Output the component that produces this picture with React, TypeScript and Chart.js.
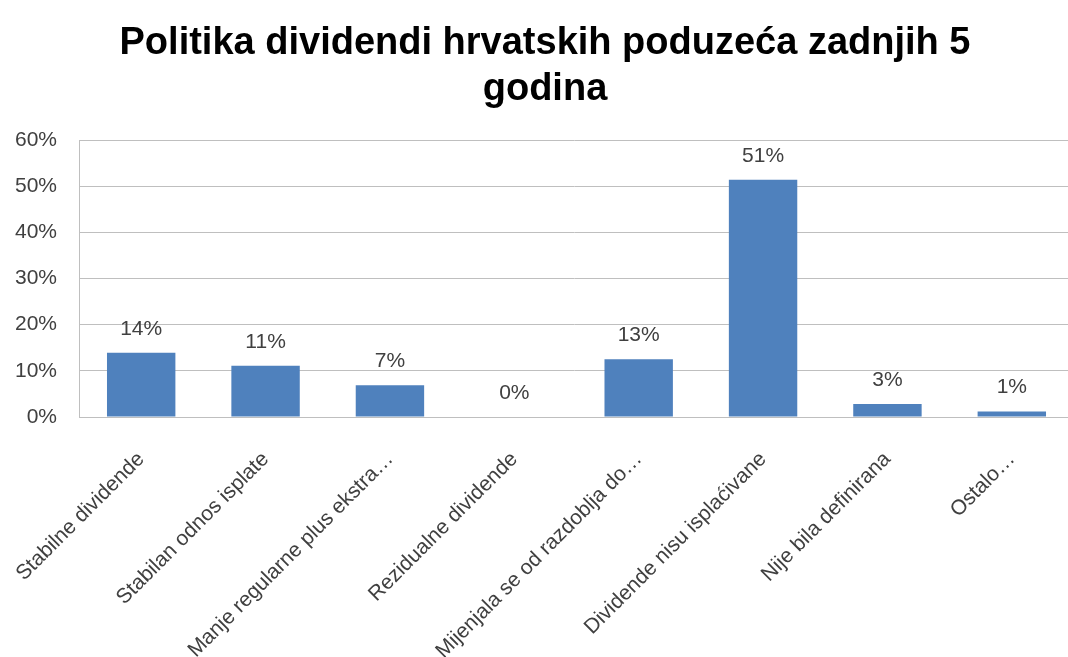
import React, { useEffect, useRef } from "react";
import { Chart, registerables } from "chart.js";

Chart.register(...registerables);

const TITLE_LINES = ["Politika dividendi hrvatskih poduzeća zadnjih 5", "godina"];
const CATEGORIES = [
  "Stabilne dividende",
  "Stabilan odnos isplate",
  "Manje regularne plus ekstra…",
  "Rezidualne dividende",
  "Mijenjala se od razdoblja do…",
  "Dividende nisu isplaćivane",
  "Nije bila definirana",
  "Ostalo…",
];
const VALUES = [13.9, 11.1, 6.9, 0, 12.5, 51.4, 2.8, 1.2];
const Y_MIN = 0;
const Y_MAX = 60;
const Y_STEP = 10;

const FONT = "'Liberation Sans', Arial, sans-serif";
const BAR_COLOR = "#4F81BD";
const GRID_COLOR = "#BFBFBF";
const TEXT_COLOR = "#404040";
const PLOT_RIGHT = 1074; // plot area runs slightly past the right edge of the picture
const TITLE_SHIFT = 11;

const dataLabelPlugin = {
  id: "dataLabels",
  afterDatasetsDraw(chart: any) {
    const ctx = chart.ctx;
    const meta = chart.getDatasetMeta(0);
    ctx.save();
    ctx.font = `21px ${FONT}`;
    ctx.fillStyle = TEXT_COLOR;
    ctx.textAlign = "center";
    ctx.textBaseline = "middle";
    meta.data.forEach((bar: any, i: number) => {
      const v = VALUES[i];
      ctx.fillText(Math.round(v) + "%", bar.x, bar.y - 24);
    });
    ctx.restore();
  },
};

const widenPlugin = {
  id: "widen",
  afterLayout(chart: any) {
    const xs = chart.scales.x;
    xs.right = PLOT_RIGHT;
    xs.width = xs.right - xs.left;
    chart.chartArea.right = PLOT_RIGHT;
    chart.chartArea.width = PLOT_RIGHT - chart.chartArea.left;
    xs.configure();
    const tb = chart.titleBlock;
    if (tb) {
      tb.left += TITLE_SHIFT;
      tb.right += TITLE_SHIFT;
    }
  },
};

export default function App() {
  const ref = useRef<HTMLCanvasElement>(null);
  useEffect(() => {
    if (!ref.current) return;
    const chart = new Chart(ref.current, {
      type: "bar",
      data: {
        labels: CATEGORIES,
        datasets: [
          {
            data: VALUES,
            backgroundColor: BAR_COLOR,
            borderWidth: 0,
            barPercentage: 0.55,
            categoryPercentage: 1,
          },
        ],
      },
      options: {
        responsive: false,
        animation: false,
        layout: { padding: { left: 0, right: 0, top: 0, bottom: 0 } },
        plugins: {
          legend: { display: false },
          tooltip: { enabled: false },
          title: {
            display: true,
            text: TITLE_LINES,
            color: "#000000",
            font: { family: FONT, size: 38, weight: "bold", lineHeight: 46 / 38 },
            padding: { top: 21, bottom: 27 },
          },
        },
        scales: {
          x: {
            grid: { display: false, drawTicks: false },
            border: { display: true, color: GRID_COLOR, width: 1 },
            ticks: {
              autoSkip: false,
              maxRotation: 45,
              minRotation: 45,
              padding: 30,
              color: TEXT_COLOR,
              font: { family: FONT, size: 21 },
            },
            afterFit(scale: any) {
              scale.height = 240;
              scale.paddingLeft = 0;
              scale.paddingRight = 0;
            },
          },
          y: {
            min: Y_MIN,
            max: Y_MAX,
            grid: { color: GRID_COLOR, drawTicks: false, lineWidth: 1 },
            border: { display: true, color: GRID_COLOR, width: 1 },
            ticks: {
              stepSize: Y_STEP,
              padding: 22,
              color: TEXT_COLOR,
              font: { family: FONT, size: 21 },
              callback: (v: any) => v + "%",
            },
            afterFit(scale: any) {
              scale.width = 79;
            },
          },
        },
      },
      plugins: [widenPlugin, dataLabelPlugin],
    });
    return () => chart.destroy();
  }, []);
  return (
    <div style={{ position: "absolute", left: 0, top: 0, width: 1068, height: 657, background: "#fff" }}>
      <canvas ref={ref} width={1068} height={657} />
    </div>
  );
}
